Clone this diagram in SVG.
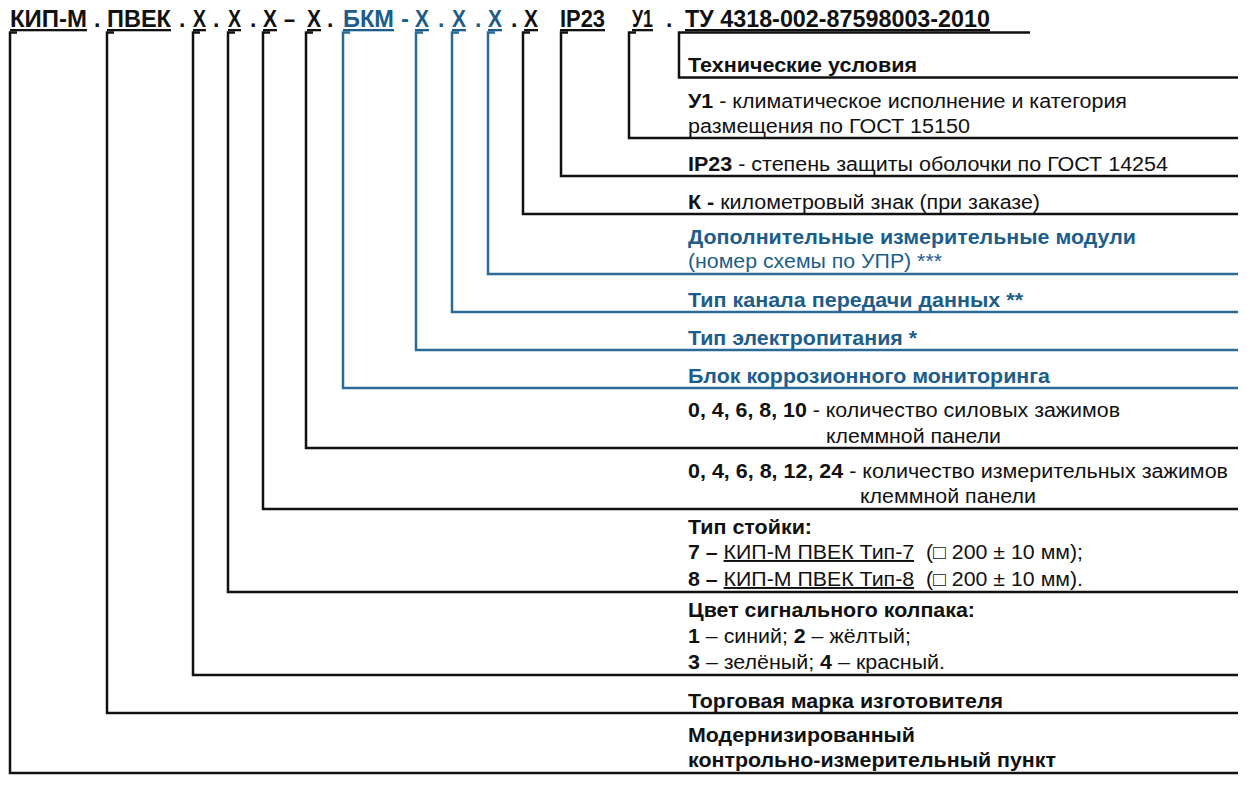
<svg xmlns="http://www.w3.org/2000/svg" width="1253" height="787" viewBox="0 0 1253 787">
<style>
text{font-family:"Liberation Sans",Arial,sans-serif;fill:#111;}
.h{font-size:23px;font-weight:700;}
.t{font-size:19.5px;}
.b{font-weight:700;}
.u{text-decoration:underline;}
.bl{fill:#1d5d8c;}
.k{fill:none;stroke:#111;stroke-width:2.5;stroke-linejoin:miter;}
.c{fill:none;stroke:#2a6a97;stroke-width:2.5;stroke-linejoin:miter;}
</style>
<rect width="1253" height="787" fill="#fff"/>
<g id="code">
<text class="h u" x="10" y="27" textLength="77" lengthAdjust="spacingAndGlyphs">КИП-М</text>
<text class="h" x="94" y="27">.</text>
<text class="h u" x="107" y="27" textLength="64" lengthAdjust="spacingAndGlyphs">ПВЕК</text>
<text class="h" x="179" y="27">.</text>
<text class="h u" x="193" y="27" textLength="13" lengthAdjust="spacingAndGlyphs">Х</text>
<text class="h" x="213" y="27">.</text>
<text class="h u" x="228" y="27" textLength="13" lengthAdjust="spacingAndGlyphs">Х</text>
<text class="h" x="250" y="27">.</text>
<text class="h u" x="263" y="27" textLength="14" lengthAdjust="spacingAndGlyphs">Х</text>
<text class="h" x="284" y="27" textLength="11" lengthAdjust="spacingAndGlyphs">–</text>
<text class="h u" x="307" y="27" textLength="14" lengthAdjust="spacingAndGlyphs">Х</text>
<text class="h" x="327" y="27">.</text>
<text class="h u bl" x="343" y="27" textLength="51" lengthAdjust="spacingAndGlyphs">БКМ</text>
<text class="h bl" x="401" y="27" textLength="8" lengthAdjust="spacingAndGlyphs">-</text>
<text class="h u bl" x="415" y="27" textLength="14" lengthAdjust="spacingAndGlyphs">Х</text>
<text class="h bl" x="438" y="27">.</text>
<text class="h u bl" x="452" y="27" textLength="14" lengthAdjust="spacingAndGlyphs">Х</text>
<text class="h bl" x="475" y="27">.</text>
<text class="h u bl" x="488" y="27" textLength="14" lengthAdjust="spacingAndGlyphs">Х</text>
<text class="h" x="511" y="27">.</text>
<text class="h u" x="524" y="27" textLength="14" lengthAdjust="spacingAndGlyphs">Х</text>
<text class="h u" x="560" y="27" textLength="45" lengthAdjust="spacingAndGlyphs">IP23</text>
<text class="h u" x="632" y="27" textLength="21" lengthAdjust="spacingAndGlyphs">У1</text>
<text class="h" x="666" y="27">.</text>
<text class="h u" x="685" y="27" textLength="305" lengthAdjust="spacingAndGlyphs">ТУ 4318-002-87598003-2010</text>
</g>
<g id="connectors">
<path class="k" d="M1030 32.5H679V77.5H1238"/>
<path class="k" d="M636 32.5H629V138H1238"/>
<path class="k" d="M568 32.5H561V176H1238"/>
<path class="k" d="M530 32.5H523V214H1238"/>
<path class="c" d="M495 32.5H488V274H1238"/>
<path class="c" d="M459 32.5H452V312H1238"/>
<path class="c" d="M423 32.5H416V350H1238"/>
<path class="c" d="M350 32.5H343V388H1238"/>
<path class="k" d="M313 32.5H306V448H1238"/>
<path class="k" d="M270 32.5H263V509H1238"/>
<path class="k" d="M235 32.5H228V592H1238"/>
<path class="k" d="M200 32.5H193V675H1238"/>
<path class="k" d="M114 32.5H107V713H1238"/>
<path class="k" d="M17 32.5H10V773H1238"/>
</g>
<g id="n-tu"><text class="t b" x="688" y="72" textLength="229" lengthAdjust="spacingAndGlyphs">Технические условия</text></g>
<g id="n-u1">
<text class="t" x="688" y="108" textLength="439" lengthAdjust="spacingAndGlyphs"><tspan class="b">У1</tspan> - климатическое исполнение и категория</text>
<text class="t" x="688" y="133" textLength="282" lengthAdjust="spacingAndGlyphs">размещения по ГОСТ 15150</text>
</g>
<g id="n-ip"><text class="t" x="688" y="171" textLength="480" lengthAdjust="spacingAndGlyphs"><tspan class="b">IP23</tspan> - степень защиты оболочки по ГОСТ 14254</text></g>
<g id="n-k"><text class="t" x="688" y="209" textLength="352" lengthAdjust="spacingAndGlyphs"><tspan class="b">К -</tspan> километровый знак (при заказе)</text></g>
<g id="n-dop">
<text class="t b bl" x="688" y="244" textLength="448" lengthAdjust="spacingAndGlyphs">Дополнительные измерительные модули</text>
<text class="t bl" x="688" y="268" textLength="254" lengthAdjust="spacingAndGlyphs">(номер схемы по УПР) ***</text>
</g>
<g id="n-kanal"><text class="t b bl" x="688" y="307" textLength="335" lengthAdjust="spacingAndGlyphs">Тип канала передачи данных **</text></g>
<g id="n-pit"><text class="t b bl" x="688" y="345" textLength="229" lengthAdjust="spacingAndGlyphs">Тип электропитания *</text></g>
<g id="n-bkm"><text class="t b bl" x="688" y="383" textLength="362" lengthAdjust="spacingAndGlyphs">Блок коррозионного мониторинга</text></g>
<g id="n-sil">
<text class="t" x="688" y="417" textLength="432" lengthAdjust="spacingAndGlyphs"><tspan class="b">0, 4, 6, 8, 10</tspan> - количество силовых зажимов</text>
<text class="t" x="826" y="443" textLength="175" lengthAdjust="spacingAndGlyphs">клеммной панели</text>
</g>
<g id="n-izm">
<text class="t" x="688" y="478" textLength="540" lengthAdjust="spacingAndGlyphs"><tspan class="b">0, 4, 6, 8, 12, 24</tspan> - количество измерительных зажимов</text>
<text class="t" x="860" y="503" textLength="176" lengthAdjust="spacingAndGlyphs">клеммной панели</text>
</g>
<g id="n-stoika">
<text class="t b" x="688" y="534" textLength="124" lengthAdjust="spacingAndGlyphs">Тип стойки:</text>
<text class="t" x="688" y="559" textLength="395" lengthAdjust="spacingAndGlyphs"><tspan class="b">7 –</tspan> <tspan class="u">КИП-М ПВЕК Тип-7</tspan>&#160; (□ 200 ± 10 мм);</text>
<text class="t" x="688" y="586" textLength="395" lengthAdjust="spacingAndGlyphs"><tspan class="b">8 –</tspan> <tspan class="u">КИП-М ПВЕК Тип-8</tspan>&#160; (□ 200 ± 10 мм).</text>
</g>
<g id="n-cvet">
<text class="t b" x="688" y="617" textLength="287" lengthAdjust="spacingAndGlyphs">Цвет сигнального колпака:</text>
<text class="t" x="688" y="643" textLength="223" lengthAdjust="spacingAndGlyphs"><tspan class="b">1</tspan> – синий; <tspan class="b">2</tspan> – жёлтый;</text>
<text class="t" x="688" y="669" textLength="257" lengthAdjust="spacingAndGlyphs"><tspan class="b">3</tspan> – зелёный; <tspan class="b">4</tspan> – красный.</text>
</g>
<g id="n-marka"><text class="t b" x="688" y="708" textLength="315" lengthAdjust="spacingAndGlyphs">Торговая марка изготовителя</text></g>
<g id="n-kip">
<text class="t b" x="688" y="742" textLength="227" lengthAdjust="spacingAndGlyphs">Модернизированный</text>
<text class="t b" x="688" y="767" textLength="368" lengthAdjust="spacingAndGlyphs">контрольно-измерительный пункт</text>
</g>
</svg>
